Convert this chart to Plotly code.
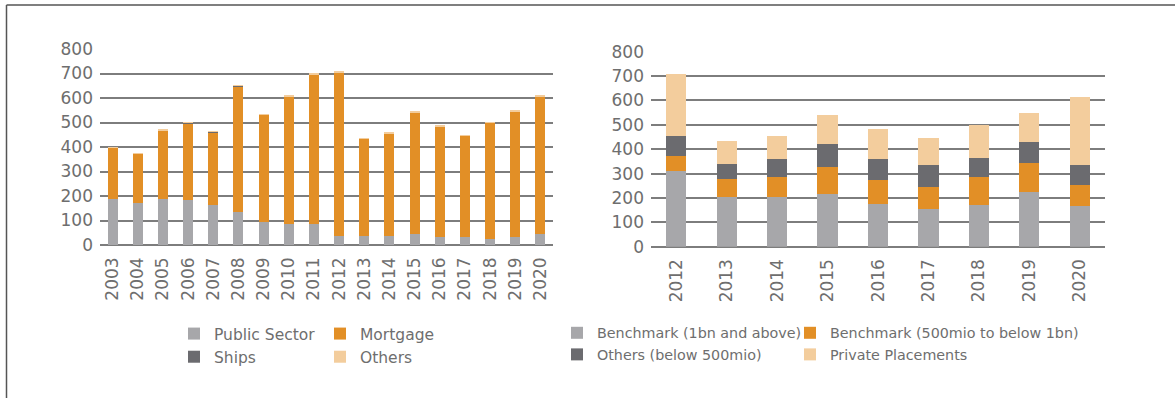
import plotly.graph_objects as go

# ---- Left chart data ----
years_left = [str(y) for y in range(2003, 2021)]
public_sector = [188, 170, 186, 182, 165, 135, 93, 86, 84, 37, 37, 35, 44, 33, 31, 24, 33, 44]
mortgage = [211, 204, 280, 315, 295, 511, 438, 521, 613, 666, 396, 422, 495, 450, 414, 475, 513, 561]
ships = [0, 0, 3, 1, 2, 4, 0, 0, 0, 0, 0, 0, 0, 0, 0, 0, 0, 0]
others = [1, 1, 3, 2, 3, 2, 1, 5, 3, 6, 1, 1, 4, 3, 1, 1, 1, 6]

# ---- Right chart data ----
years_right = [str(y) for y in range(2012, 2021)]
bench_1bn = [309, 204, 203, 216, 174, 153, 171, 223, 168]
bench_500 = [63, 74, 83, 111, 101, 92, 115, 120, 85]
others_500 = [82, 62, 74, 95, 83, 90, 79, 86, 82]
private_pl = [254, 92, 95, 118, 125, 111, 134, 119, 278]

y_ticks = [0, 100, 200, 300, 400, 500, 600, 700, 800]

C_GRAY = "#a7a7aa"
C_ORANGE = "#e28f26"
C_DARK = "#6b6b6f"
C_LIGHT = "#f3cd9d"
TXT = "#6e6e6e"
FONT = "DejaVu Sans"

W, H = 1175, 398

fig = go.Figure()

def add(x, y, name, color, xa, ya, legend):
    fig.add_trace(go.Bar(x=x, y=y, name=name, marker=dict(color=color, line=dict(width=0)),
                         xaxis=xa, yaxis=ya, legend=legend))

add(years_left, public_sector, "Public Sector", C_GRAY, "x", "y", "legend")
add(years_left, mortgage, "Mortgage", C_ORANGE, "x", "y", "legend2")
add(years_left, ships, "Ships", C_DARK, "x", "y", "legend")
add(years_left, others, "Others", C_LIGHT, "x", "y", "legend2")

add(years_right, bench_1bn, "Benchmark (1bn and above)", C_GRAY, "x2", "y2", "legend3")
add(years_right, bench_500, "Benchmark (500mio to below 1bn)", C_ORANGE, "x2", "y2", "legend4")
add(years_right, others_500, "Others (below 500mio)", C_DARK, "x2", "y2", "legend3")
add(years_right, private_pl, "Private Placements", C_LIGHT, "x2", "y2", "legend4")

def px_x(p):
    return p / W

def px_y(p):
    return (H - p) / H

axis_common = dict(showline=False, ticks="", automargin=False,
                   tickfont=dict(family=FONT, size=17, color=TXT))
yaxis_common = dict(range=[0, 800], tickvals=y_ticks, showgrid=True, gridcolor="#7d7d7d", gridwidth=1.5,
                    zeroline=True, zerolinecolor="#7d7d7d", zerolinewidth=1.5, ticklabelstandoff=6,
                    **axis_common)
xaxis_common = dict(type="category", tickangle=-90, ticklabelstandoff=8, showgrid=False, **axis_common)

def legend_cfg(xpix, ypix, size):
    return dict(orientation="v", x=px_x(xpix), y=px_y(ypix), xanchor="left", yanchor="top",
                xref="paper", yref="paper", traceorder="normal", bgcolor="rgba(0,0,0,0)",
                font=dict(family=FONT, size=size, color=TXT), itemclick=False, itemdoubleclick=False)

fig.update_layout(
    template="none",
    width=W, height=H, autosize=False,
    margin=dict(l=0, r=0, t=0, b=0, pad=0, autoexpand=False),
    paper_bgcolor="white", plot_bgcolor="white",
    barmode="stack", bargap=0.6,
    showlegend=True,
    xaxis=dict(domain=[px_x(100), px_x(553)], categoryarray=years_left, **xaxis_common),
    yaxis=dict(domain=[px_y(245), px_y(49)], **yaxis_common),
    xaxis2=dict(domain=[px_x(651), px_x(1105)], categoryarray=years_right, anchor="y2", **xaxis_common),
    yaxis2=dict(domain=[px_y(246.7), px_y(51.7)], anchor="x2", **yaxis_common),
    legend=legend_cfg(174, 317, 15.5),
    legend2=legend_cfg(320, 317, 15.5),
    legend3=legend_cfg(557, 317, 14.3),
    legend4=legend_cfg(790, 317, 14.3),
    shapes=[
        dict(type="line", xref="paper", yref="paper", x0=px_x(6.5), x1=1.0, y0=px_y(5), y1=px_y(5),
             line=dict(color="#555555", width=1.5)),
        dict(type="line", xref="paper", yref="paper", x0=px_x(6.5), x1=px_x(6.5), y0=px_y(5), y1=0,
             line=dict(color="#555555", width=1.5)),
    ],
)

fig.write_html("out.html", config={"displayModeBar": False},
               post_script="document.body.style.margin='0px';")
